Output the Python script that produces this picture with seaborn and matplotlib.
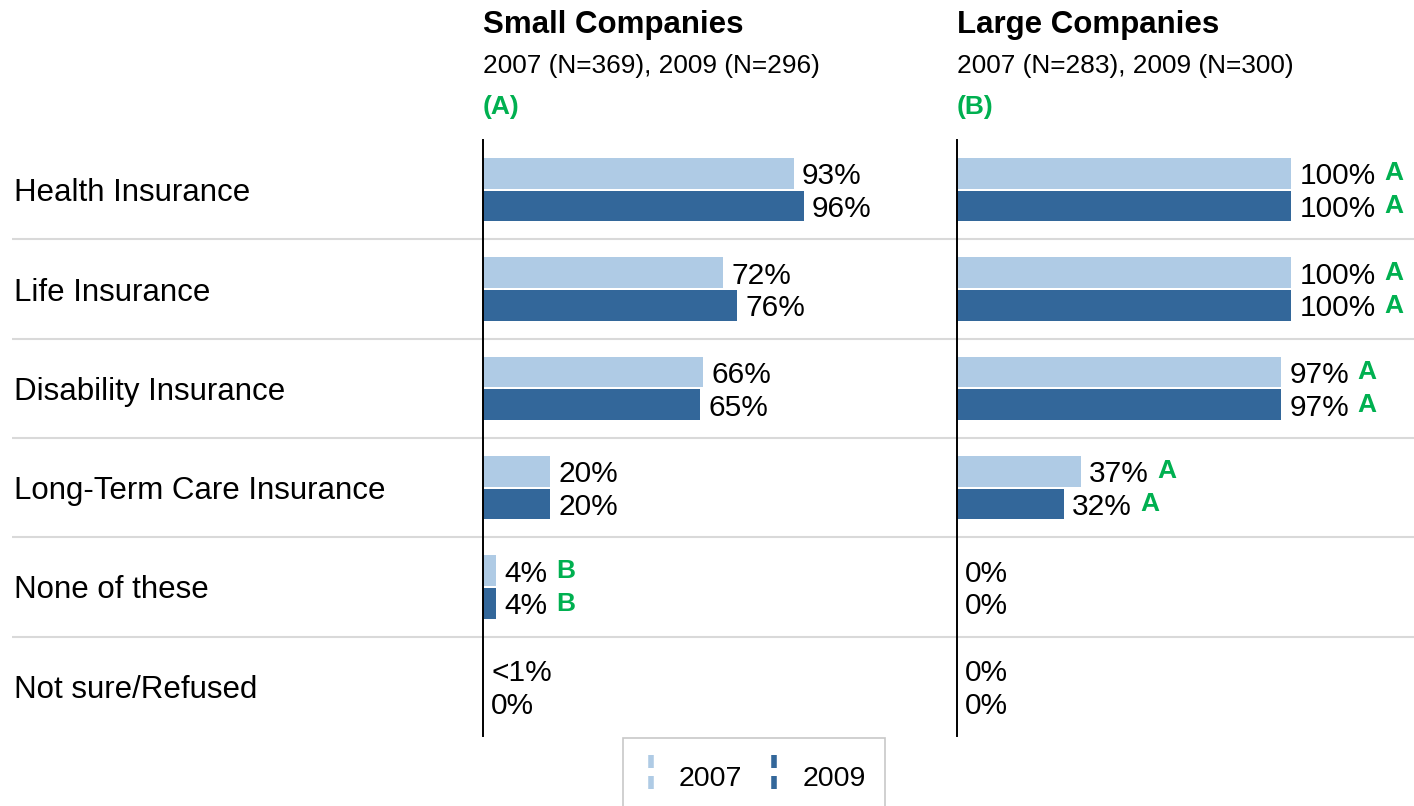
import matplotlib
matplotlib.use("Agg")
import matplotlib.pyplot as plt
import seaborn as sns
import pandas as pd
from matplotlib.path import Path
from matplotlib.lines import Line2D

# data
benefits = ["Health Insurance", "Life Insurance", "Disability Insurance",
            "Long-Term Care Insurance", "None of these", "Not sure/Refused"]
years = ["2007", "2009"]

small_2007 = [93, 72, 66, 20, 4, 0]
small_2009 = [96, 76, 65, 20, 4, 0]
large_2007 = [100, 100, 97, 37, 0, 0]
large_2009 = [100, 100, 97, 32, 0, 0]

small_lab_2007 = ["93%", "72%", "66%", "20%", "4%", "<1%"]
small_lab_2009 = ["96%", "76%", "65%", "20%", "4%", "0%"]
large_lab_2007 = ["100%", "100%", "97%", "37%", "0%", "0%"]
large_lab_2009 = ["100%", "100%", "97%", "32%", "0%", "0%"]

# significance letters
small_sig_2007 = ["", "", "", "", "B", ""]
small_sig_2009 = ["", "", "", "", "B", ""]
large_sig_2007 = ["A", "A", "A", "A", "", ""]
large_sig_2009 = ["A", "A", "A", "A", "", ""]

titles = ["Small Companies", "Large Companies"]
subtitles = ["2007 (N=369), 2009 (N=296)", "2007 (N=283), 2009 (N=300)"]
letters = ["(A)", "(B)"]

light = "#afcbe5"
dark = "#33679a"
green = "#00b050"

sns.set_style("white")
plt.rcParams["font.family"] = ["Liberation Sans", "DejaVu Sans"]
plt.rcParams["text.color"] = "black"

W, H = 1414, 806
fig = plt.figure(figsize=(W / 100, H / 100), dpi=100)
top, bottom = 140, 736
ax_b = 1 - bottom / H
ax_h = (bottom - top) / H
n = len(benefits)

# background: row labels + separators
bg = fig.add_axes([12 / W, ax_b, 1 - 12 / W, ax_h])
bg.set_xlim(0, 1)
bg.set_ylim(n - 0.5, -0.5)
bg.axis("off")
for i in range(1, n):
    bg.axhline(i - 0.5, color="#d9d9d9", lw=1.5)
for i, b in enumerate(benefits):
    bg.text(0.0015, i, b, va="center_baseline", ha="left", fontsize=22.5)

panels = [
    (483, small_2007, small_2009, small_lab_2007, small_lab_2009, small_sig_2007, small_sig_2009),
    (957, large_2007, large_2009, large_lab_2007, large_lab_2009, large_sig_2007, large_sig_2009),
]

for k, (x0, v07, v09, l07, l09, s07, s09) in enumerate(panels):
    ax = fig.add_axes([x0 / W, ax_b, 334 / W, ax_h])
    df = pd.DataFrame({
        "Benefit": benefits * 2,
        "Year": [years[0]] * n + [years[1]] * n,
        "Pct": v07 + v09,
    })
    sns.barplot(data=df, x="Pct", y="Benefit", hue="Year", orient="h",
                palette=[light, dark], saturation=1, width=0.66, gap=0.06,
                errorbar=None, linewidth=0, legend=False, ax=ax)
    ax.set_xlim(0, 100)
    ax.set_ylim(n - 0.5, -0.5)
    ax.set_xlabel("")
    ax.set_ylabel("")
    ax.set_xticks([])
    ax.set_yticks([])
    ax.patch.set_alpha(0)
    for side in ["top", "right", "bottom"]:
        ax.spines[side].set_visible(False)
    ax.spines["left"].set_color("black")
    ax.spines["left"].set_linewidth(1.4)

    for cont, labs, sigs in zip(ax.containers, [l07, l09], [s07, s09]):
        texts = ax.bar_label(cont, labels=labs, padding=6, fontsize=21.5)
        for t, s in zip(texts, sigs):
            t.set_va("center_baseline")
            if s:
                ax.annotate(s, xy=(1, 0.5), xycoords=t, xytext=(6, 2),
                            textcoords="offset points", va="center", ha="left",
                            color=green, fontsize=19, fontweight="bold")

    fig.text(x0 / W, 1 - 33 / H, titles[k], fontsize=22.5, fontweight="bold", va="baseline")
    fig.text(x0 / W, 1 - 73 / H, subtitles[k], fontsize=18.9, va="baseline")
    fig.text(x0 / W, 1 - 114 / H, letters[k], fontsize=19, fontweight="bold",
             color=green, va="baseline")

# legend with broken vertical bars
mk = Path([(0, -1), (0, -0.25), (0, 0.25), (0, 1)],
          [Path.MOVETO, Path.LINETO, Path.MOVETO, Path.LINETO])
handles = [Line2D([], [], marker=mk, linestyle="none", markersize=24,
                  markeredgewidth=4, color=c) for c in [light, dark]]
leg = fig.legend(handles, years, loc="upper left",
                 bbox_to_anchor=(623 / W, 1 - 738 / H), borderaxespad=0,
                 ncol=2, frameon=True, fancybox=False, edgecolor="#c8c8c8",
                 framealpha=1, fontsize=20.5, borderpad=0.67,
                 handlelength=0.6, handleheight=1.8, handletextpad=0.7,
                 columnspacing=0.8)
leg.get_frame().set_linewidth(1.2)

fig.savefig("out.png", dpi=100)
